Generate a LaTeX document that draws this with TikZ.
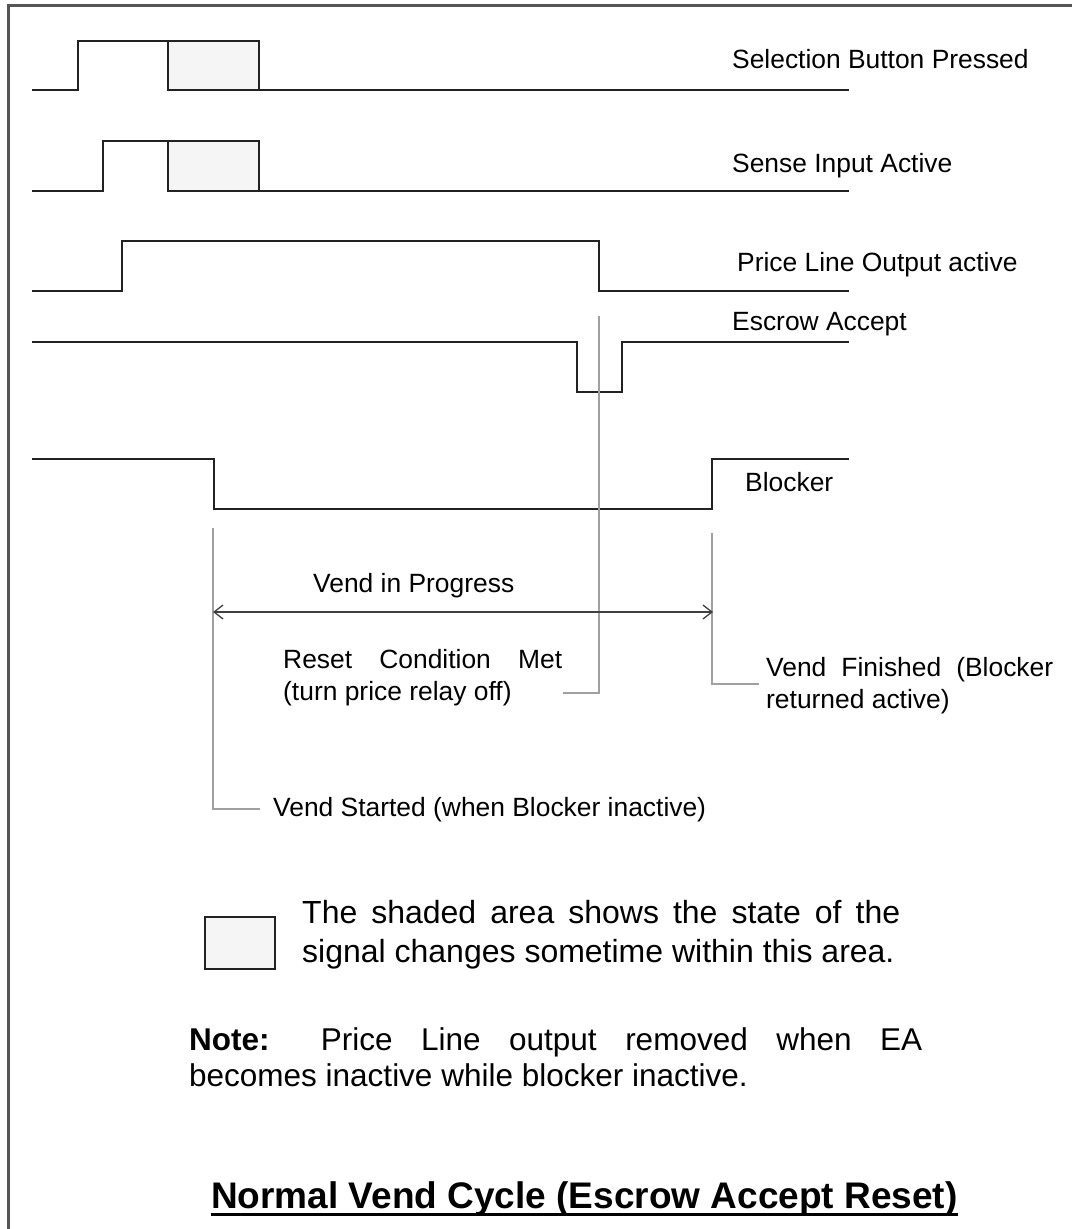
\documentclass[tikz,border=0pt]{standalone}
\usepackage{fontspec}
\setmainfont{Liberation Sans}
\usetikzlibrary{arrows.meta}
\definecolor{framegray}{HTML}{555555}
\definecolor{siggray}{HTML}{222222}
\definecolor{guidegray}{HTML}{A0A0A0}
\definecolor{shadefill}{HTML}{F5F5F5}
\begin{document}
\begin{tikzpicture}[x=1pt,y=-1pt,
  sig/.style={line width=2pt, draw=siggray, line join=miter},
  shadebox/.style={line width=2pt, draw=siggray, fill=shadefill},
  guide/.style={line width=1.5pt, draw=guidegray},
  frameline/.style={line width=3pt, draw=framegray},
  spanarrow/.style={line width=1.6pt, draw=black!75, {Straight Barb[length=9pt,width=14pt,line width=1.3pt]}-{Straight Barb[length=9pt,width=14pt,line width=1.3pt]}},
  lbl/.style={anchor=base west, inner sep=0pt, font=\fontsize{26.4}{31}\selectfont},
  leg/.style={anchor=base west, inner sep=0pt, font=\fontsize{32}{38}\selectfont},
  notetxt/.style={anchor=base west, inner sep=0pt, font=\fontsize{31.5}{37}\selectfont},
  titletxt/.style={anchor=base west, inner sep=0pt, font=\bfseries\fontsize{37}{44}\selectfont}]
\useasboundingbox[fill=white] (0,0) rectangle (1072,1229);
% frame
\draw[frameline] (8,1229) -- (8,5) -- (1072,5);
% Selection Button Pressed
\draw[shadebox] (168,41) rectangle (259,90);
\draw[sig] (32,90) -| (78,41) -- (168,41);
\draw[sig] (259,90) -- (849,90);
% Sense Input Active
\draw[shadebox] (168,141) rectangle (259,191);
\draw[sig] (32,191) -| (103,141) -- (168,141);
\draw[sig] (259,191) -- (849,191);
% Price Line Output
\draw[sig] (32,291) -| (122,241) -| (599,291) -- (849,291);
% Escrow Accept
\draw[sig] (32,342) -| (577,392) -| (622,342) -- (849,342);
% Blocker
\draw[sig] (32,459) -| (214,509) -| (712,459) -- (849,459);
% guide coordinates
\coordinate (rsTop) at (599,316);
\coordinate (rsEnd) at (563,693);
\coordinate (vsTop) at (213,528);
\coordinate (vsEnd) at (260,809);
\coordinate (vfTop) at (712,533);
\coordinate (vfEnd) at (759,684);
\coordinate (arL) at (213,612);
\coordinate (arR) at (713,612);
\draw[guide] (rsTop) |- (rsEnd);
\draw[guide] (vsTop) |- (vsEnd);
\draw[guide] (vfTop) |- (vfEnd);
\draw[spanarrow] (arL) -- (arR);
% signal labels
\node[lbl] (sbl) at (732,68) {Selection Button Pressed};
\node[lbl] (sil) at (732,172) {Sense Input Active};
\node[lbl] (pll) at (737,271) {Price Line Output active};
\node[lbl] (eal) at (732,330) {Escrow Accept};
\node[lbl] (bll) at (745,491) {Blocker};
% annotations
\node[lbl] (vip) at (313,592) {Vend in Progress};
\node[lbl] (rcA) at (283,668) {\makebox[279pt][s]{Reset Condition Met}};
\node[lbl] (rcB) at (283,700) {(turn price relay off)};
\node[lbl] (vfA) at (766,676) {\makebox[287pt][s]{Vend Finished (Blocker}};
\node[lbl] (vfB) at (766,708) {returned active)};
\node[lbl] (vsl) at (273,816) {Vend Started (when Blocker inactive)};
% legend
\draw[shadebox, line width=1.5pt] (205,917) rectangle (275,969);
\node[leg] (legA) at (302,923) {\makebox[598pt][s]{The shaded area shows the state of the}};
\node[leg] (legB) at (302,962) {signal changes sometime within this area.};
% note
\node[notetxt] (noteA) at (189,1050) {\makebox[733pt][s]{\textbf{Note:} Price Line output removed when EA}};
\node[notetxt] (noteB) at (189,1086) {becomes inactive while blocker inactive.};
% title
\node[titletxt] (title) at (211,1208) {Normal Vend Cycle (Escrow Accept Reset)};
\draw[line width=3.5pt, draw=black] ([yshift=-6.5pt]title.base west) -- ([yshift=-6.5pt]title.base east);
\end{tikzpicture}
\end{document}
